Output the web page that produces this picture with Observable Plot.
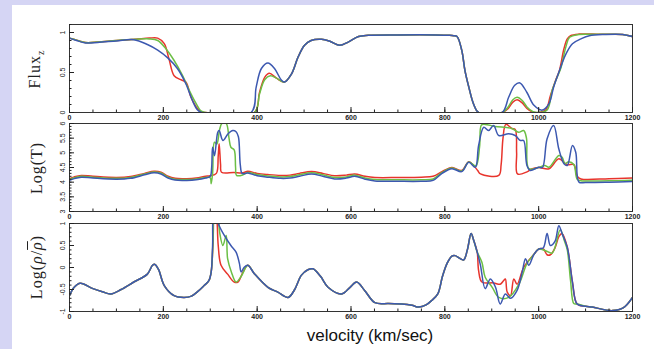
<!DOCTYPE html>
<html><head><meta charset="utf-8">
<script src="https://cdn.jsdelivr.net/npm/d3@7"></script>
<script src="https://cdn.jsdelivr.net/npm/@observablehq/plot@0.6"></script>
<style>
body{margin:0;background:#fff;}
#wrap{position:relative;width:654px;height:349px;background:#d5d5f4;overflow:hidden;}
#inner{position:absolute;left:12px;top:5px;width:642px;height:344px;background:#fff;}
.pl{position:absolute;left:0;}
.ylab{position:absolute;font-family:"Liberation Serif",serif;font-size:16px;letter-spacing:1px;white-space:nowrap;transform:translate(-50%,-50%) rotate(-90deg);color:#222;}
#xlab{position:absolute;left:370px;top:327px;transform:translateX(-50%);font-family:"Liberation Sans",Arial,sans-serif;font-size:17px;line-height:1;color:#111;white-space:nowrap;}
</style></head>
<body>
<div id="wrap"><div id="inner"></div>
<div class="ylab" style="left:36px;top:69px;">Flux<sub style="font-size:10px">z</sub></div>
<div class="ylab" style="left:37px;top:168px;">Log(T)</div>
<div class="ylab" style="left:37px;top:267px;">Log(<i>ρ</i>/<i style="text-decoration:overline">ρ</i>)</div>
<div id="xlab">velocity (km/sec)</div>
</div>
<script>
// ---- tick values ----
const xMajor = [0, 200, 400, 600, 800, 1000, 1200];
const xMinor = d3.range(0, 1201, 50);
const fluxTicks = [0, 0.5, 1];
const tempTicks = [3, 3.5, 4, 4.5, 5, 5.5, 6];
const rhoTicks = [-1, -0.5, 0, 0.5, 1];

const colors = {red: "#e8342c", green: "#6cbf45", blue: "#3c58b0"};

// ---- Flux_z ----
const fluxStart = [[0,0.93],[15,0.905],[34,0.875],[60,0.88],[100,0.9],[140,0.915]];
const fluxMid = [[473,0.48],[487,0.69],[501,0.84],[515,0.9],[537,0.915],[555,0.89],[576,0.84],[594,0.88],[616,0.95],[637,0.965],[700,0.97],[780,0.97],[810,0.965],[819,0.96],[826,0.95],[836,0.78],[843,0.52],[851,0.32],[861,0.11],[872,0.0],[922,0.0]];
const fluxRed = [...fluxStart,[170,0.93],[188,0.93],[202,0.86],[212,0.67],[223,0.46],[237,0.41],[248,0.38],[259,0.19],[270,0.07],[280,0.01],[290,0],[394,0],[405,0.25],[416,0.44],[426,0.49],[441,0.43],[458,0.38],...fluxMid,[935,0.05],[945,0.13],[954,0.16],[965,0.12],[975,0.05],[988,0.005],[1000,0],[1015,0.03],[1025,0.21],[1036,0.4],[1044,0.52],[1054,0.8],[1061,0.92],[1068,0.96],[1086,0.98],[1114,0.98],[1142,0.978],[1179,0.975],[1200,0.95]];
const fluxGreen = [...fluxStart,[170,0.92],[188,0.9],[205,0.8],[223,0.65],[241,0.46],[255,0.28],[270,0.11],[280,0.02],[290,0],[394,0],[405,0.23],[416,0.41],[428,0.46],[441,0.43],[458,0.38],...fluxMid,[935,0.07],[945,0.16],[954,0.19],[965,0.15],[975,0.07],[988,0.01],[1000,0],[1018,0.03],[1029,0.28],[1040,0.45],[1047,0.55],[1058,0.82],[1066,0.94],[1086,0.975],[1114,0.978],[1142,0.977],[1179,0.975],[1200,0.95]];
const fluxBlue = [[0,0.93],[15,0.9],[34,0.87],[60,0.875],[100,0.895],[137,0.91],[166,0.85],[188,0.78],[210,0.68],[230,0.55],[248,0.36],[262,0.15],[273,0.03],[282,0],[387,0],[398,0.32],[409,0.55],[423,0.62],[437,0.55],[451,0.41],[458,0.38],...fluxMid,[936,0.19],[949,0.34],[960,0.37],[975,0.25],[990,0.09],[1008,0.03],[1022,0.11],[1032,0.32],[1044,0.52],[1058,0.73],[1072,0.86],[1090,0.92],[1108,0.96],[1142,0.975],[1179,0.975],[1200,0.95]];

// ---- Log(T) ----
const tempBlue = [[0,4.06],[10,4.12],[25,4.17],[50,4.14],[100,4.1],[130,4.13],[160,4.25],[180,4.32],[195,4.28],[210,4.14],[225,4.07],[250,4.06],[270,4.08],[290,4.14],[300,4.2],[303,4.5],[305,5.19],[309,4.9],[316,5.7],[319,5.76],[327,5.42],[338,5.65],[348,5.76],[355,5.72],[360,5.55],[364,4.6],[368,4.3],[380,4.31],[400,4.22],[423,4.17],[450,4.13],[470,4.14],[490,4.2],[516,4.28],[540,4.2],[565,4.11],[590,4.14],[608,4.2],[630,4.1],[651,4.04],[700,4.03],[750,4.03],[775,4.06],[794,4.3],[815,4.46],[836,4.36],[851,4.68],[865,4.51],[872,5.25],[883,5.87],[893,5.76],[904,5.93],[915,5.59],[936,5.65],[950,5.59],[961,5.42],[968,5.42],[975,4.57],[982,4.4],[1000,4.51],[1008,4.5],[1018,5.48],[1032,5.93],[1043,5.13],[1054,4.63],[1061,4.57],[1072,5.25],[1079,5.02],[1086,4.0],[1100,3.99],[1150,4.0],[1200,4.02]];
const tempGreen = [[0,4.09],[10,4.15],[25,4.2],[50,4.17],[100,4.13],[130,4.16],[160,4.28],[180,4.35],[195,4.31],[210,4.17],[225,4.1],[250,4.09],[270,4.11],[290,4.16],[300,4.15],[302,3.95],[305,4.3],[309,5.36],[314,5.3],[320,5.8],[325,6.0],[334,6.0],[340,5.5],[344,5.19],[351,5.1],[354,4.5],[356,4.23],[370,4.25],[380,4.33],[400,4.26],[423,4.21],[450,4.18],[470,4.19],[490,4.25],[516,4.32],[540,4.25],[565,4.16],[590,4.18],[608,4.24],[630,4.14],[651,4.09],[700,4.08],[750,4.08],[775,4.11],[794,4.33],[815,4.48],[836,4.38],[851,4.69],[866,4.55],[874,5.2],[878,5.95],[886,5.97],[907,5.9],[943,5.83],[957,5.7],[968,5.76],[974,5.5],[979,4.46],[1000,4.5],[1013,4.57],[1022,4.51],[1043,4.91],[1050,4.85],[1056,4.63],[1064,4.7],[1075,4.6],[1082,4.1],[1090,4.05],[1150,4.05],[1200,4.07]];
const tempRed = [[0,4.12],[10,4.18],[25,4.23],[50,4.2],[100,4.16],[130,4.19],[160,4.3],[180,4.37],[195,4.34],[210,4.2],[225,4.13],[250,4.12],[270,4.14],[290,4.2],[300,4.22],[313,4.3],[317,4.9],[319,5.31],[322,4.6],[324,4.34],[350,4.33],[370,4.32],[380,4.37],[400,4.3],[423,4.26],[450,4.23],[470,4.24],[490,4.3],[516,4.36],[540,4.3],[565,4.22],[590,4.24],[608,4.28],[630,4.2],[651,4.16],[700,4.16],[750,4.17],[775,4.2],[794,4.36],[815,4.5],[836,4.4],[851,4.7],[862,4.55],[870,4.4],[876,4.28],[915,4.23],[920,4.6],[924,5.5],[930,5.97],[943,5.83],[950,5.8],[953,5.0],[955,4.28],[975,4.35],[985,4.45],[1000,4.5],[1022,4.46],[1043,4.8],[1060,4.6],[1075,4.6],[1082,4.2],[1090,4.11],[1150,4.12],[1200,4.14]];

// ---- Log(rho/rhobar) ----
const rhoStart = [[0,-0.64],[10,-0.45],[23,-0.36],[50,-0.48],[70,-0.55],[88,-0.6],[110,-0.5],[137,-0.33],[166,-0.15],[177,0.05],[182,0.07],[190,-0.05],[202,-0.41],[223,-0.64],[244,-0.68],[260,-0.65],[273,-0.55],[287,-0.41],[297,-0.3],[302,-0.1]];
const rhoMid = [[380,0.05],[394,-0.14],[423,-0.45],[444,-0.56],[466,-0.68],[480,-0.5],[494,-0.18],[508,-0.05],[519,-0.03],[535,-0.2],[551,-0.45],[580,-0.6],[598,-0.45],[612,-0.33],[629,-0.52],[651,-0.8],[680,-0.82],[708,-0.83],[730,-0.86],[744,-0.9],[760,-0.85],[772,-0.75],[785,-0.6],[795,-0.2],[805,0.1],[815,0.26],[822,0.27],[830,0.22],[840,0.17],[848,0.4],[856,0.77],[862,0.6],[869,0.35]];
const rhoEnd = [[1082,-0.83],[1100,-0.88],[1114,-0.9],[1157,-0.98],[1180,-0.92],[1200,-0.68]];
const rhoBlue = [...rhoStart,[305,0.5],[308,1.3],[312,1.3],[316,1.05],[319,0.95],[330,0.73],[344,0.5],[355,0.35],[362,0.1],[366,-0.1],[372,0.0],...rhoMid,[876,0.05],[886,-0.48],[897,-0.26],[908,-0.45],[918,-0.83],[929,-0.6],[940,-0.7],[954,-0.52],[965,-0.1],[972,0.2],[979,0.05],[990,0.3],[1000,0.42],[1010,0.45],[1018,0.77],[1025,0.5],[1035,0.6],[1043,0.95],[1050,0.77],[1061,0.46],[1072,-0.33],...rhoEnd];
const rhoGreen = [...rhoStart,[306,0.6],[309,1.3],[316,1.2],[320,0.8],[327,0.5],[334,0.73],[337,0.2],[345,-0.1],[355,-0.33],[366,-0.2],...rhoMid,[879,0.12],[886,-0.22],[901,-0.45],[915,-0.68],[936,-0.68],[958,-0.38],[975,0.09],[990,0.3],[1000,0.42],[1015,0.38],[1029,0.33],[1046,0.86],[1055,0.6],[1061,0.4],[1068,-0.3],[1075,-0.82],...rhoEnd];
const rhoRed = [...rhoStart,[306,0.6],[309,1.3],[313,1.2],[317,0.5],[323,0.05],[337,-0.15],[351,-0.33],[359,-0.33],[370,-0.1],...rhoMid,[872,-0.07],[879,-0.33],[904,-0.35],[918,-0.38],[925,-0.3],[929,-0.26],[933,-0.56],[940,-0.64],[947,-0.26],[954,-0.38],[968,0.0],[990,0.3],[1000,0.42],[1010,0.42],[1018,0.29],[1025,0.29],[1035,0.45],[1043,0.7],[1050,0.77],[1061,0.46],[1072,-0.33],...rhoEnd];

function panel({red, green, blue, domain, ticks, minorStep, top, height, mt, mb}) {
  const yMinor = d3.range(domain[0], domain[1] + 1e-9, minorStep).map(v => +v.toFixed(2));
  const series = [[red, colors.red], [green, colors.green], [blue, colors.blue]];
  const svg = Plot.plot({
    width: 654, height, marginLeft: 69, marginRight: 22, marginTop: mt, marginBottom: mb,
    x: {domain: [0, 1200]},
    y: {domain},
    style: {background: "transparent", fontFamily: "'Liberation Sans', Arial, sans-serif", color: "#222"},
    marks: [
      ...series.map(([data, c]) => Plot.line(data, {x: d => d[0], y: d => d[1], stroke: c, strokeWidth: 1.5, curve: "catmull-rom", clip: true})),
      Plot.frame({stroke: "#333", strokeWidth: 1}),
      Plot.axisX({ticks: xMajor, tickSize: -5, text: null, label: null}),
      Plot.axisX({ticks: xMinor, tickSize: -2.5, text: null, label: null}),
      Plot.axisX({ticks: xMajor, tickSize: 0, tickPadding: 3, fontSize: 7, fontWeight: "bold", label: null, tickFormat: d => String(d)}),
      Plot.axisY({ticks, tickSize: -5, text: null, label: null}),
      Plot.axisY({ticks: yMinor, tickSize: -2.5, text: null, label: null}),
      Plot.axisY({ticks, tickSize: 0, tickPadding: 7, fontSize: 7, rotate: -90, textAnchor: "middle", label: null, tickFormat: d => String(d)})
    ]
  });
  svg.classList.add("pl");
  svg.style.top = top + "px";
  return svg;
}

const wrap = document.getElementById("wrap");
wrap.appendChild(panel({red: fluxRed, green: fluxGreen, blue: fluxBlue, domain: [0, 1.1], ticks: fluxTicks, minorStep: 0.1, top: 0, height: 124, mt: 24, mb: 12}));
wrap.appendChild(panel({red: tempRed, green: tempGreen, blue: tempBlue, domain: [3, 6], ticks: tempTicks, minorStep: 0.1, top: 114, height: 110, mt: 9, mb: 13}));
wrap.appendChild(panel({red: rhoRed, green: rhoGreen, blue: rhoBlue, domain: [-1, 1], ticks: rhoTicks, minorStep: 0.1, top: 214, height: 112, mt: 9, mb: 15}));
</script>
</body></html>
